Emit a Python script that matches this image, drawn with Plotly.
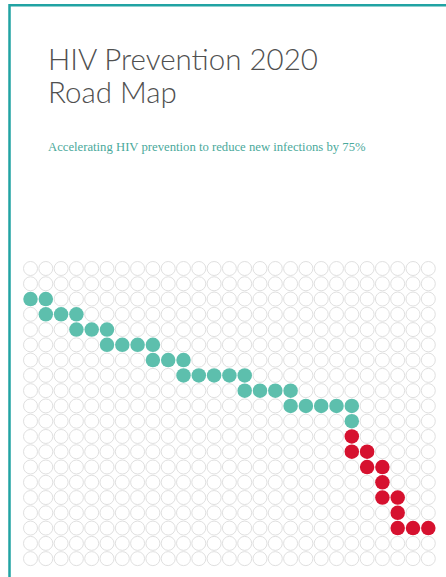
import plotly.graph_objects as go

# ---- data ----
N_ROWS = 20
N_COLS = 27

teal_rows = [2, 3, 4, 5, 6, 7, 8, 9, 10]
teal_start = [0, 1, 3, 5, 8, 10, 14, 17, 21]
teal_end = [1, 3, 5, 8, 10, 14, 17, 21, 21]

red_rows = [11, 12, 13, 14, 15, 16, 17]
red_start = [21, 21, 22, 23, 23, 24, 24]
red_end = [21, 22, 23, 23, 24, 24, 26]

title_lines = ["HIV Prevention 2020", "Road Map"]
subtitle = "Accelerating HIV prevention to reduce new infections by 75%"

# ---- geometry (pixels) ----
W, H = 446, 577
X0, DX = 30.5, 15.3
Y0, DY = 268.5, 15.27

def cells(rows, starts, ends):
    xs, ys = [], []
    for r, s, e in zip(rows, starts, ends):
        for c in range(s, e + 1):
            xs.append(c)
            ys.append(r)
    return xs, ys

tx, ty = cells(teal_rows, teal_start, teal_end)
rx, ry = cells(red_rows, red_start, red_end)
filled = set(zip(tx, ty)) | set(zip(rx, ry))

gx, gy = [], []
for r in range(N_ROWS):
    for c in range(N_COLS):
        if (c, r) not in filled:
            gx.append(c)
            gy.append(r)

def cx(p):  # pixel x -> column units
    return (p - X0) / DX

def cy(p):  # pixel y -> row units
    return (p - Y0) / DY

fig = go.Figure()
fig.add_trace(go.Scatter(
    x=gx, y=gy, mode="markers", hoverinfo="skip",
    marker=dict(size=14, color="white", line=dict(color="#e0e0e0", width=1)),
))
fig.add_trace(go.Scatter(
    x=tx, y=ty, mode="markers", hoverinfo="skip",
    marker=dict(size=14.5, color="#5dbfad", line=dict(width=0)),
))
fig.add_trace(go.Scatter(
    x=rx, y=ry, mode="markers", hoverinfo="skip",
    marker=dict(size=14.5, color="#d6112f", line=dict(width=0)),
))
# cover frame: top edge and left edge
bx, by = 9.5, 5.3
fig.add_trace(go.Scatter(
    x=[cx(W + 5), cx(bx), cx(bx)], y=[cy(by), cy(by), cy(H + 5)],
    mode="lines", hoverinfo="skip",
    line=dict(color="#21a3a3", width=2.5),
))

xr = [cx(0), cx(W)]
yr = [cy(H), cy(0)]

def px(x):
    return x / W

def py(y):
    return 1 - y / H

annotations = [
    dict(text=title_lines[0], x=px(46), y=py(58), xref="paper", yref="paper",
         xanchor="left", yanchor="middle", showarrow=False,
         font=dict(family="Lato", size=29.5, color="#505050", weight=300)),
    dict(text=title_lines[1], x=px(46), y=py(91), xref="paper", yref="paper",
         xanchor="left", yanchor="middle", showarrow=False,
         font=dict(family="Lato", size=29.5, color="#505050", weight=300)),
    dict(text=subtitle, x=px(46), y=py(147), xref="paper", yref="paper",
         xanchor="left", yanchor="middle", showarrow=False,
         font=dict(family="Liberation Serif", size=12.7, color="#4aa99b")),
]

fig.update_layout(
    width=W, height=H,
    margin=dict(l=0, r=0, t=0, b=0),
    paper_bgcolor="white", plot_bgcolor="white",
    showlegend=False,
    xaxis=dict(range=xr, visible=False, fixedrange=True),
    yaxis=dict(range=yr, visible=False, fixedrange=True),
    annotations=annotations,
)

fig.write_html(
    "out.html",
    config={"displayModeBar": False},
    post_script=("document.body.style.margin='0';document.body.style.overflow='hidden';"
                 "document.documentElement.style.overflow='hidden';"),
)
